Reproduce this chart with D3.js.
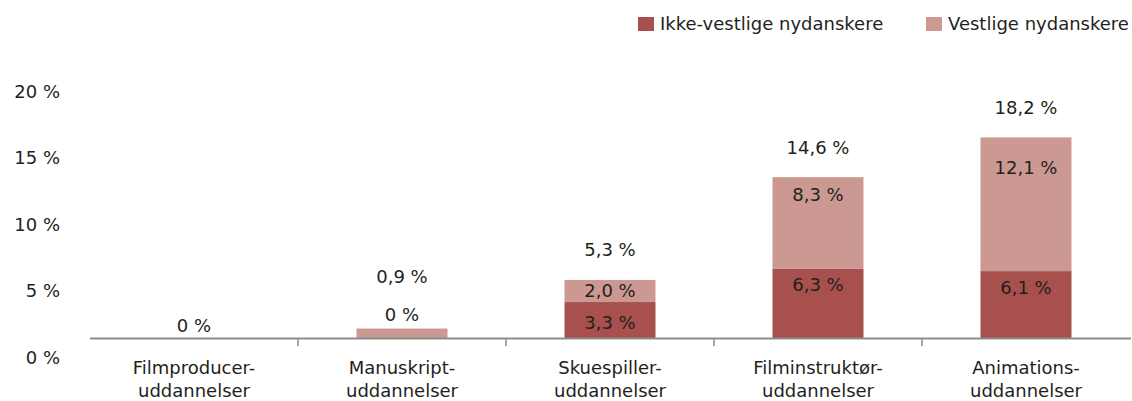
<!DOCTYPE html>
<html>
<head>
<meta charset="utf-8">
<script src="https://cdn.jsdelivr.net/npm/d3@7"></script>
<style>
  html, body { margin: 0; padding: 0; background: #fff; }
  svg { display: block; }
  text { font-family: "DejaVu Sans", "Liberation Sans", sans-serif; fill: #231f20; }
</style>
</head>
<body>
<svg id="chart" width="1132" height="401"></svg>
<script>
// ---- data ----
const categories = ["Filmproducer-uddannelser", "Manuskript-uddannelser", "Skuespiller-uddannelser", "Filminstruktør-uddannelser", "Animations-uddannelser"];
const ikkeVestlige = [0, 0, 3.3, 6.3, 6.1];
const vestlige = [0, 0.9, 2.0, 8.3, 12.1];
const totals = [0, 0.9, 5.3, 14.6, 18.2];
const seriesNames = ["Ikke-vestlige nydanskere", "Vestlige nydanskere"];
const yTickValues = [0, 5, 10, 15, 20];

// ---- layout ----
const colors = ["#a8504d", "#cc9992"];
const svg = d3.select("#chart");
const fs = 18;

const x = d3.scaleBand().domain(categories).range([90, 1130]).paddingInner(0.5625).paddingOuter(0.28125);
const y = d3.scaleLinear().domain([0, 20]).range([338.5, 338.5 - 221]);
// tick labels in the reference sit on their own spacing
const yLabel = d3.scaleLinear().domain([0, 20]).range([357, 91]);

const fmt = v => v === 0 ? "0 %" : d3.format(".1f")(v).replace(".", ",") + " %";

// y tick labels
const yAxis = d3.axisLeft(yLabel).tickValues(yTickValues).tickSize(0).tickFormat(d => d + " %");
const gy = svg.append("g").attr("transform", "translate(60,0)").call(yAxis);
gy.select(".domain").remove();
gy.selectAll("text").attr("x", 0).attr("dy", "0.36em").style("font-size", fs + "px")
  .style("font-family", '"DejaVu Sans", sans-serif').attr("fill", "#231f20");

// stacked bars
const rows = categories.map((c, i) => ({ cat: c, a: ikkeVestlige[i], b: vestlige[i], t: totals[i] }));
const stack = d3.stack().keys(["a", "b"])(rows);
svg.append("g").selectAll("g").data(stack).join("g")
  .attr("fill", (d, i) => colors[i])
  .selectAll("rect").data(d => d).join("rect")
  .attr("x", d => x(d.data.cat))
  .attr("width", x.bandwidth())
  .attr("y", d => y(d[1]))
  .attr("height", d => y(d[0]) - y(d[1]));

// x axis
const step = x.step();
const ga = svg.append("g");
ga.append("line").attr("x1", 90).attr("x2", 1131).attr("y1", 338.5).attr("y2", 338.5)
  .attr("stroke", "#8c8c8c").attr("stroke-width", 2);
ga.selectAll("line.tick").data(categories.slice(1)).join("line").attr("class", "tick")
  .attr("x1", d => x(d) - x.paddingInner() * step / 2)
  .attr("x2", d => x(d) - x.paddingInner() * step / 2)
  .attr("y1", 338.5).attr("y2", 346).attr("stroke", "#8c8c8c").attr("stroke-width", 1.5);

// category labels
const cl = svg.append("g").selectAll("text").data(categories).join("text")
  .attr("x", d => x(d) + x.bandwidth() / 2)
  .attr("text-anchor", "middle").style("font-size", fs + "px");
cl.each(function(d) {
  const idx = d.indexOf("-");
  const lines = [d.slice(0, idx + 1), d.slice(idx + 1)];
  d3.select(this).selectAll("tspan").data(lines).join("tspan")
    .attr("x", x(d) + x.bandwidth() / 2)
    .attr("y", (l, j) => 368 + j * 23).attr("dy", "0.36em").text(l => l);
});

// value labels
const lightNudge = [0, 0, 0, 0, 13];
const lab = svg.append("g").style("font-size", fs + "px").attr("text-anchor", "middle");
rows.forEach((r, i) => {
  const cx = x(r.cat) + x.bandwidth() / 2;
  const base = y(0), darkTop = y(r.a), top = y(r.a + r.b);
  if (r.t === 0) {
    lab.append("text").attr("x", cx).attr("y", base - 13).attr("dy", "0.36em").text(fmt(r.t));
    return;
  }
  if (r.a === 0) {
    lab.append("text").attr("x", cx).attr("y", top - 14).attr("dy", "0.36em").text(fmt(r.a));
    lab.append("text").attr("x", cx).attr("y", top - 52).attr("dy", "0.36em").text(fmt(r.t));
    return;
  }
  const darkH = base - darkTop;
  lab.append("text").attr("x", cx).attr("y", darkH < 40 ? (base + darkTop) / 2 + 2 : darkTop + 16)
    .attr("dy", "0.36em").text(fmt(r.a));
  const lightH = darkTop - top;
  lab.append("text").attr("x", cx).attr("y", (lightH < 34 ? (darkTop + top) / 2 : top + 17) + lightNudge[i])
    .attr("dy", "0.36em").text(fmt(r.b));
  lab.append("text").attr("x", cx).attr("y", top - 30).attr("dy", "0.36em").text(fmt(r.t));
});

// legend
const legendX = [638, 926];
const lg = svg.append("g").selectAll("g").data(seriesNames).join("g")
  .attr("transform", (d, i) => `translate(${legendX[i]},17)`);
lg.append("rect").attr("width", 16).attr("height", 14).attr("fill", (d, i) => colors[i]);
lg.append("text").attr("x", 22).attr("y", 7).attr("dy", "0.36em").style("font-size", fs + "px").text(d => d);
</script>
</body>
</html>
